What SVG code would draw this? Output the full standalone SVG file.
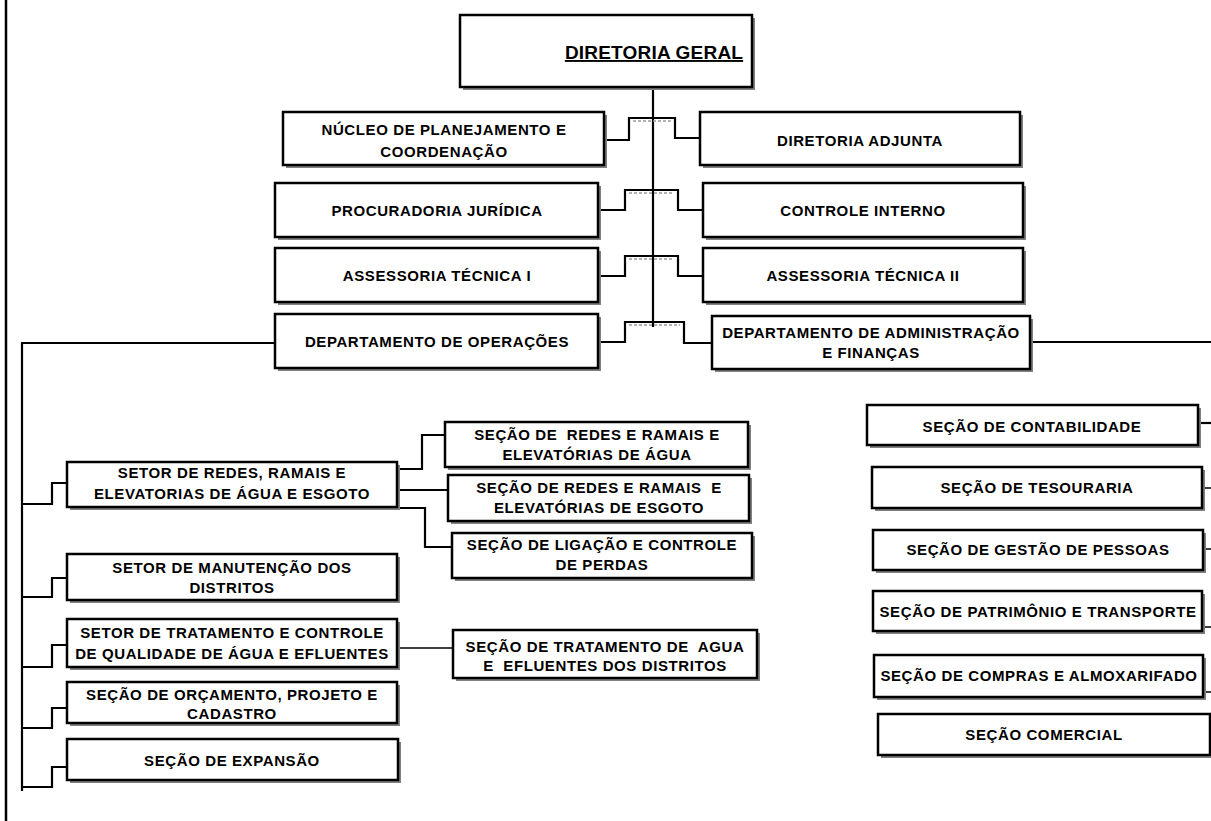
<svg xmlns="http://www.w3.org/2000/svg" width="1211" height="821" viewBox="0 0 1211 821">
<style>
.sh{fill:#808080}
.bx{fill:#fff;stroke:#000;stroke-width:2.5}
.t{font-family:"Liberation Sans",Arial,sans-serif;font-weight:bold;font-size:15px;letter-spacing:0.6px;text-anchor:middle;fill:#000;white-space:pre}
.ttl{font-family:"Liberation Sans",Arial,sans-serif;font-weight:bold;font-size:19px;letter-spacing:0.2px;text-anchor:middle;fill:#000;text-decoration:underline}
.c{fill:none;stroke:#000;stroke-width:2.2}
.cn{fill:none;stroke:#000;stroke-width:1.5}
.g{fill:none;stroke:#9a9a9a;stroke-width:1.5;stroke-dasharray:3 2}
</style>
<rect width="1211" height="821" fill="#fff"/>
<path d="M6 0V821" stroke="#000" stroke-width="2.5"/>
<g id="connectors">
<path class="c" d="M653 87V327"/>
<path class="c" d="M604 140H629V118H675V138H700"/>
<path class="c" d="M598 210H625V190H678V210H703"/>
<path class="c" d="M598 276H625V256H678V276H703"/>
<path class="c" d="M598 342H625V322H684V343H712"/>
<path class="g" d="M633 121H671M629 193H674M629 259H674M629 325H680"/>
<path class="c" d="M275 343H22V791"/>
<path class="c" d="M1030 342H1211"/>
<path class="c" d="M22 504H52V483H67"/>
<path class="c" d="M22 597H52V578H67"/>
<path class="c" d="M22 667H52V645H67"/>
<path class="c" d="M22 728H52V708H67"/>
<path class="c" d="M22 787H52V767H67"/>
<path class="c" d="M397 469H422V435H445"/>
<path class="c" d="M397 490H448"/>
<path class="c" d="M397 508H425V547H452"/>
<path class="cn" d="M397 648H453"/>
<path class="c" d="M1198 423H1211"/>
<path class="cn" d="M1202 488H1211M1203 549H1211M1202 627H1211M1203 692H1211"/>
</g>
<g id="diretoria-geral">
<rect class="sh" x="463" y="18" width="292" height="72"/>
<rect class="bx" x="460" y="15" width="292" height="72"/>
<text class="ttl" x="654" y="59">DIRETORIA GERAL</text>
</g>
<g id="nucleo">
<rect class="sh" x="286" y="115" width="321" height="53"/>
<rect class="bx" x="283" y="112" width="321" height="53"/>
<text class="t" x="444" y="135">NÚCLEO DE PLANEJAMENTO E</text>
<text class="t" x="444" y="157">COORDENAÇÃO</text>
</g>
<g id="diretoria-adjunta">
<rect class="sh" x="703" y="115" width="320" height="53"/>
<rect class="bx" x="700" y="112" width="320" height="53"/>
<text class="t" x="860" y="146">DIRETORIA ADJUNTA</text>
</g>
<g id="procuradoria">
<rect class="sh" x="278" y="186" width="323" height="54"/>
<rect class="bx" x="275" y="183" width="323" height="54"/>
<text class="t" x="437" y="216">PROCURADORIA JURÍDICA</text>
</g>
<g id="controle-interno">
<rect class="sh" x="706" y="186" width="320" height="54"/>
<rect class="bx" x="703" y="183" width="320" height="54"/>
<text class="t" x="863" y="216">CONTROLE INTERNO</text>
</g>
<g id="assessoria-1">
<rect class="sh" x="278" y="251" width="323" height="54"/>
<rect class="bx" x="275" y="248" width="323" height="54"/>
<text class="t" x="437" y="281">ASSESSORIA TÉCNICA I</text>
</g>
<g id="assessoria-2">
<rect class="sh" x="706" y="251" width="320" height="54"/>
<rect class="bx" x="703" y="248" width="320" height="54"/>
<text class="t" x="863" y="281">ASSESSORIA TÉCNICA II</text>
</g>
<g id="dep-operacoes">
<rect class="sh" x="278" y="317" width="323" height="54"/>
<rect class="bx" x="275" y="314" width="323" height="54"/>
<text class="t" x="437" y="347">DEPARTAMENTO DE OPERAÇÕES</text>
</g>
<g id="dep-adm">
<rect class="sh" x="715" y="319" width="318" height="53"/>
<rect class="bx" x="712" y="316" width="318" height="53"/>
<text class="t" x="871" y="338">DEPARTAMENTO DE ADMINISTRAÇÃO</text>
<text class="t" x="871" y="358">E FINANÇAS</text>
</g>
<g id="setor-redes">
<rect class="sh" x="70" y="465" width="330" height="45"/>
<rect class="bx" x="67" y="462" width="330" height="45"/>
<text class="t" x="232" y="478">SETOR DE REDES, RAMAIS E</text>
<text class="t" x="232" y="499">ELEVATORIAS DE ÁGUA E ESGOTO</text>
</g>
<g id="secao-redes-agua">
<rect class="sh" x="448" y="425" width="303" height="45"/>
<rect class="bx" x="445" y="422" width="303" height="45"/>
<text class="t" x="597" y="440">SEÇÃO DE  REDES E RAMAIS E</text>
<text class="t" x="597" y="460">ELEVATÓRIAS DE ÁGUA</text>
</g>
<g id="secao-redes-esgoto">
<rect class="sh" x="451" y="478" width="301" height="46"/>
<rect class="bx" x="448" y="475" width="301" height="46"/>
<text class="t" x="599" y="493">SEÇÃO DE REDES E RAMAIS  E</text>
<text class="t" x="599" y="513">ELEVATÓRIAS DE ESGOTO</text>
</g>
<g id="secao-ligacao">
<rect class="sh" x="455" y="536" width="300" height="45"/>
<rect class="bx" x="452" y="533" width="300" height="45"/>
<text class="t" x="602" y="550">SEÇÃO DE LIGAÇÃO E CONTROLE</text>
<text class="t" x="602" y="570">DE PERDAS</text>
</g>
<g id="setor-manutencao">
<rect class="sh" x="70" y="557" width="330" height="46"/>
<rect class="bx" x="67" y="554" width="330" height="46"/>
<text class="t" x="232" y="573">SETOR DE MANUTENÇÃO DOS</text>
<text class="t" x="232" y="593">DISTRITOS</text>
</g>
<g id="setor-tratamento">
<rect class="sh" x="70" y="622" width="330" height="48"/>
<rect class="bx" x="67" y="619" width="330" height="48"/>
<text class="t" x="232" y="638">SETOR DE TRATAMENTO E CONTROLE</text>
<text class="t" x="232" y="659">DE QUALIDADE DE ÁGUA E EFLUENTES</text>
</g>
<g id="secao-tratamento">
<rect class="sh" x="456" y="633" width="304" height="48"/>
<rect class="bx" x="453" y="630" width="304" height="48"/>
<text class="t" x="605" y="652">SEÇÃO DE TRATAMENTO DE  AGUA</text>
<text class="t" x="605" y="671">E  EFLUENTES DOS DISTRITOS</text>
</g>
<g id="secao-orcamento">
<rect class="sh" x="70" y="685" width="330" height="41"/>
<rect class="bx" x="67" y="682" width="330" height="41"/>
<text class="t" x="232" y="700">SEÇÃO DE ORÇAMENTO, PROJETO E</text>
<text class="t" x="232" y="719">CADASTRO</text>
</g>
<g id="secao-expansao">
<rect class="sh" x="70" y="742" width="331" height="41"/>
<rect class="bx" x="67" y="739" width="331" height="41"/>
<text class="t" x="232" y="766">SEÇÃO DE EXPANSÃO</text>
</g>
<g id="secao-contabilidade">
<rect class="sh" x="870" y="408" width="331" height="40"/>
<rect class="bx" x="867" y="405" width="331" height="40"/>
<text class="t" x="1032" y="432">SEÇÃO DE CONTABILIDADE</text>
</g>
<g id="secao-tesouraria">
<rect class="sh" x="875" y="470" width="330" height="41"/>
<rect class="bx" x="872" y="467" width="330" height="41"/>
<text class="t" x="1037" y="493">SEÇÃO DE TESOURARIA</text>
</g>
<g id="secao-gestao">
<rect class="sh" x="876" y="533" width="330" height="40"/>
<rect class="bx" x="873" y="530" width="330" height="40"/>
<text class="t" x="1038" y="555">SEÇÃO DE GESTÃO DE PESSOAS</text>
</g>
<g id="secao-patrimonio">
<rect class="sh" x="876" y="594" width="329" height="40"/>
<rect class="bx" x="873" y="591" width="329" height="40"/>
<text class="t" x="1038" y="617">SEÇÃO DE PATRIMÔNIO E TRANSPORTE</text>
</g>
<g id="secao-compras">
<rect class="sh" x="877" y="658" width="329" height="42"/>
<rect class="bx" x="874" y="655" width="329" height="42"/>
<text class="t" x="1039" y="681">SEÇÃO DE COMPRAS E ALMOXARIFADO</text>
</g>
<g id="secao-comercial">
<rect class="sh" x="881" y="717" width="332" height="41"/>
<rect class="bx" x="878" y="714" width="332" height="41"/>
<text class="t" x="1044" y="740">SEÇÃO COMERCIAL</text>
</g>
</svg>
